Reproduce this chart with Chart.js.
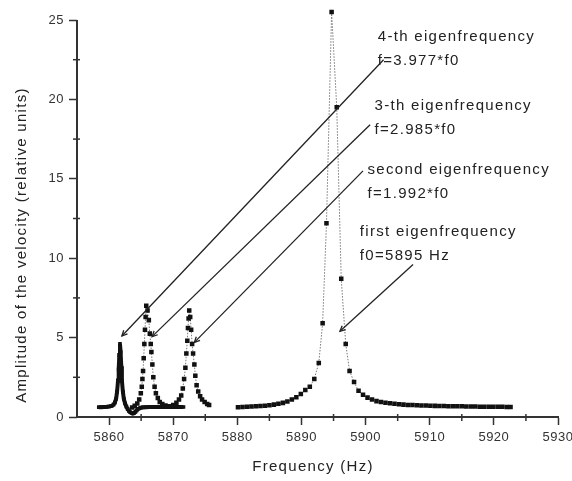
<!DOCTYPE html>
<html>
<head>
<meta charset="utf-8">
<script src="https://cdn.jsdelivr.net/npm/chart.js@4.4.0/dist/chart.umd.min.js"></script>
<style>
  html, body { margin: 0; padding: 0; background: #fff; }
  #wrap { width: 572px; height: 481px; }
</style>
</head>
<body>
<div id="wrap"><canvas id="chart"></canvas></div>
<script>
// axis ticks
const xTicks = [5860, 5870, 5880, 5890, 5900, 5910, 5920, 5930];
const xMinor = [5865, 5875, 5885, 5895, 5905, 5915, 5925];
const yTicks = [0, 5, 10, 15, 20, 25];
const yMinor = [2.5, 7.5, 12.5, 17.5, 22.5];

// 4-th eigenfrequency (dense black curve)
const fourthFreq = [5858.4, 5858.8, 5859.2, 5859.6, 5860.0, 5860.4, 5860.7, 5860.9, 5861.1, 5861.25,
  5861.4, 5861.5, 5861.6, 5861.7, 5861.8, 5861.9, 5862.0, 5862.15, 5862.3, 5862.5,
  5862.7, 5862.9, 5863.1, 5863.3, 5863.5, 5863.7, 5863.9, 5864.1, 5864.3, 5864.6,
  5864.9, 5865.3, 5865.8, 5866.3, 5866.8, 5867.3, 5867.8, 5868.3, 5868.8, 5869.3,
  5869.8, 5870.3, 5870.8, 5871.2, 5871.6];
const fourthAmp = [0.62, 0.62, 0.63, 0.64, 0.66, 0.7, 0.78, 0.9, 1.15, 1.6,
  2.3, 3.0, 3.9, 4.6, 4.1, 3.2, 2.3, 1.6, 1.15, 0.85,
  0.65, 0.5, 0.38, 0.3, 0.25, 0.22, 0.25, 0.32, 0.42, 0.52,
  0.58, 0.61, 0.62, 0.63, 0.63, 0.63, 0.63, 0.63, 0.63, 0.63,
  0.63, 0.63, 0.63, 0.63, 0.63];

// 3-th eigenfrequency
const thirdFreq = [5863.6, 5864.0, 5864.4, 5864.7, 5864.95, 5865.1, 5865.2, 5865.3, 5865.4, 5865.5,
  5865.6, 5865.7, 5865.8, 5866.0, 5866.2, 5866.35, 5866.5, 5866.6, 5866.75, 5866.9,
  5867.1, 5867.3, 5867.6, 5867.9, 5868.3, 5868.8, 5869.3];
const thirdAmp = [0.6, 0.7, 0.85, 1.1, 1.5, 1.9, 2.4, 2.9, 3.7, 4.6,
  5.5, 6.3, 7.0, 6.7, 6.1, 5.25, 4.6, 4.1, 3.3, 2.5,
  1.9, 1.5, 1.2, 0.95, 0.82, 0.72, 0.66];

// second eigenfrequency
const secondFreq = [5869.0, 5869.5, 5870.0, 5870.5, 5870.9, 5871.25, 5871.5, 5871.7, 5871.9, 5872.05,
  5872.2, 5872.3, 5872.4, 5872.5, 5872.65, 5872.8, 5872.95, 5873.1, 5873.3, 5873.45,
  5873.65, 5873.9, 5874.2, 5874.5, 5874.9, 5875.3, 5875.6];
const secondAmp = [0.64, 0.68, 0.75, 0.9, 1.1, 1.35, 1.8, 2.4, 3.1, 4.0,
  4.8, 5.6, 6.2, 6.7, 6.3, 5.5, 4.6, 4.0, 3.3, 2.6,
  2.0, 1.6, 1.3, 1.1, 0.95, 0.82, 0.75];

// first eigenfrequency f0 = 5895 Hz
const firstFreq = [5880.1, 5880.8, 5881.5, 5882.2, 5882.9, 5883.6, 5884.3, 5885.0, 5885.7, 5886.4,
  5887.1, 5887.8, 5888.5, 5889.2, 5889.9, 5890.6, 5891.3, 5892.0, 5892.7, 5893.3,
  5893.9, 5894.7, 5895.5, 5896.2, 5896.9, 5897.5, 5898.2, 5898.9, 5899.6, 5900.3,
  5901.0, 5901.7, 5902.4, 5903.1, 5903.8, 5904.5, 5905.2, 5905.9, 5906.6, 5907.3,
  5908.0, 5908.7, 5909.4, 5910.1, 5910.8, 5911.5, 5912.2, 5912.9, 5913.6, 5914.3,
  5915.0, 5915.7, 5916.4, 5917.1, 5917.8, 5918.5, 5919.2, 5919.9, 5920.6, 5921.3,
  5922.0, 5922.6];
const firstAmp = [0.62, 0.63, 0.64, 0.66, 0.67, 0.69, 0.71, 0.74, 0.78, 0.83,
  0.89, 0.98, 1.1, 1.25, 1.45, 1.7, 1.9, 2.4, 3.4, 5.9,
  12.2, 25.5, 19.5, 8.7, 4.6, 2.9, 2.2, 1.65, 1.4, 1.22,
  1.1, 1.0, 0.94, 0.9, 0.86, 0.83, 0.8, 0.78, 0.76, 0.75,
  0.74, 0.73, 0.72, 0.71, 0.7, 0.69, 0.69, 0.68, 0.68, 0.67,
  0.67, 0.66, 0.66, 0.66, 0.65, 0.65, 0.65, 0.64, 0.64, 0.64,
  0.63, 0.63];

// labels with their arrows (data units)
const notes = [
  { text: ['4-th eigenfrequency', 'f=3.977*f0'], at: [5901.9, 23.69], from: [5902.8, 22.5], to: [5862.0, 5.1] },
  { text: ['3-th eigenfrequency', 'f=2.985*f0'], at: [5901.4, 19.31], from: [5900.7, 18.4], to: [5866.7, 5.06] },
  { text: ['second eigenfrequency', 'f=1.992*f0'], at: [5900.3, 15.31], from: [5899.6, 15.5], to: [5873.3, 4.7] },
  { text: ['first eigenfrequency', 'f0=5895 Hz'], at: [5899.1, 11.375], from: [5907.4, 9.6], to: [5896.0, 5.4] }
];

const pts = (xs, ys) => xs.map((x, i) => ({ x: x, y: ys[i] }));

function markerSet(label, xs, ys) {
  return {
    label: label,
    data: pts(xs, ys),
    showLine: true,
    borderColor: '#777',
    borderWidth: 1,
    borderDash: [1.5, 1.5],
    pointStyle: 'rect',
    pointRadius: 3.2,
    pointBackgroundColor: '#111',
    pointBorderWidth: 0
  };
}

const extras = {
  id: 'extras',
  beforeDraw(chart) {
    chart.ctx.letterSpacing = '0.5px';
  },
  afterDraw(chart) {
    const ctx = chart.ctx;
    const xs = chart.scales.x, ys = chart.scales.y;
    const area = chart.chartArea;
    ctx.save();
    ctx.strokeStyle = '#333';
    // y axis line, stops at the last labelled value
    ctx.lineWidth = 2;
    ctx.beginPath();
    ctx.moveTo(area.left, ys.getPixelForValue(yTicks[yTicks.length - 1]));
    ctx.lineTo(area.left, area.bottom);
    ctx.stroke();
    // minor ticks
    ctx.lineWidth = 1.5;
    xMinor.forEach(v => {
      const px = xs.getPixelForValue(v);
      ctx.beginPath(); ctx.moveTo(px, area.bottom - 3); ctx.lineTo(px, area.bottom + 4); ctx.stroke();
    });
    yMinor.forEach(v => {
      const py = ys.getPixelForValue(v);
      ctx.beginPath(); ctx.moveTo(area.left - 4, py); ctx.lineTo(area.left + 3, py); ctx.stroke();
    });

    ctx.letterSpacing = '1.3px';
    ctx.fillStyle = '#222';
    ctx.font = '15px "Liberation Sans", Arial, sans-serif';

    // annotations
    notes.forEach(n => {
      const tx = xs.getPixelForValue(n.at[0]);
      const ty = ys.getPixelForValue(n.at[1]);
      ctx.textAlign = 'left';
      ctx.textBaseline = 'alphabetic';
      n.text.forEach((t, i) => ctx.fillText(t, tx, ty + i * 24));
      const x1 = xs.getPixelForValue(n.from[0]), y1 = ys.getPixelForValue(n.from[1]);
      const x2 = xs.getPixelForValue(n.to[0]), y2 = ys.getPixelForValue(n.to[1]);
      ctx.strokeStyle = '#222';
      ctx.lineWidth = 1.3;
      ctx.beginPath(); ctx.moveTo(x1, y1); ctx.lineTo(x2, y2); ctx.stroke();
      const a = Math.atan2(y2 - y1, x2 - x1);
      ctx.beginPath();
      ctx.moveTo(x2 - 6 * Math.cos(a - 0.45), y2 - 6 * Math.sin(a - 0.45));
      ctx.lineTo(x2, y2);
      ctx.lineTo(x2 - 6 * Math.cos(a + 0.45), y2 - 6 * Math.sin(a + 0.45));
      ctx.stroke();
    });

    // axis titles
    ctx.textAlign = 'center';
    ctx.textBaseline = 'middle';
    ctx.fillText('Frequency (Hz)', 313, 467);
    ctx.translate(22, 245);
    ctx.rotate(-Math.PI / 2);
    ctx.fillText('Amplitude of the velocity (relative units)', 0, 0);
    ctx.restore();
  }
};

new Chart(document.getElementById('chart'), {
  type: 'scatter',
  data: {
    datasets: [
      {
        label: '4-th eigenfrequency',
        data: pts(fourthFreq, fourthAmp),
        showLine: true,
        borderColor: '#111',
        borderWidth: 4,
        pointStyle: 'rect',
        pointRadius: 2.6,
        pointBackgroundColor: '#111',
        pointBorderWidth: 0
      },
      markerSet('3-th eigenfrequency', thirdFreq, thirdAmp),
      markerSet('second eigenfrequency', secondFreq, secondAmp),
      markerSet('first eigenfrequency', firstFreq, firstAmp)
    ]
  },
  options: {
    responsive: true,
    maintainAspectRatio: false,
    animation: false,
    layout: { padding: { top: 7.3, right: 14, bottom: 0, left: 0 } },
    plugins: { legend: { display: false }, tooltip: { enabled: false } },
    scales: {
      x: {
        type: 'linear',
        min: 5855,
        max: 5930,
        afterBuildTicks: s => { s.ticks = xTicks.map(v => ({ value: v })); },
        afterFit: s => { s.height = 64; s.paddingLeft = 0; s.paddingRight = 0; },
        grid: { drawOnChartArea: false, drawTicks: true, tickLength: 8, tickColor: '#333', tickWidth: 1.5 },
        border: { display: true, color: '#333', width: 2 },
        ticks: { font: { family: 'Liberation Sans', size: 13 }, color: '#333', padding: 5, maxRotation: 0, autoSkip: false,
          callback: v => String(v) }
      },
      y: {
        type: 'linear',
        min: 0,
        max: 25.8,
        afterBuildTicks: s => { s.ticks = yTicks.map(v => ({ value: v })); },
        afterFit: s => { s.width = 77; s.paddingTop = 0; s.paddingBottom = 0; },
        grid: { drawOnChartArea: false, drawTicks: true, tickLength: 8, tickColor: '#333', tickWidth: 1.5 },
        border: { display: false },
        ticks: { font: { family: 'Liberation Sans', size: 13 }, color: '#333', padding: 5, callback: v => String(v) }
      }
    }
  },
  plugins: [extras]
});
</script>
</body>
</html>
